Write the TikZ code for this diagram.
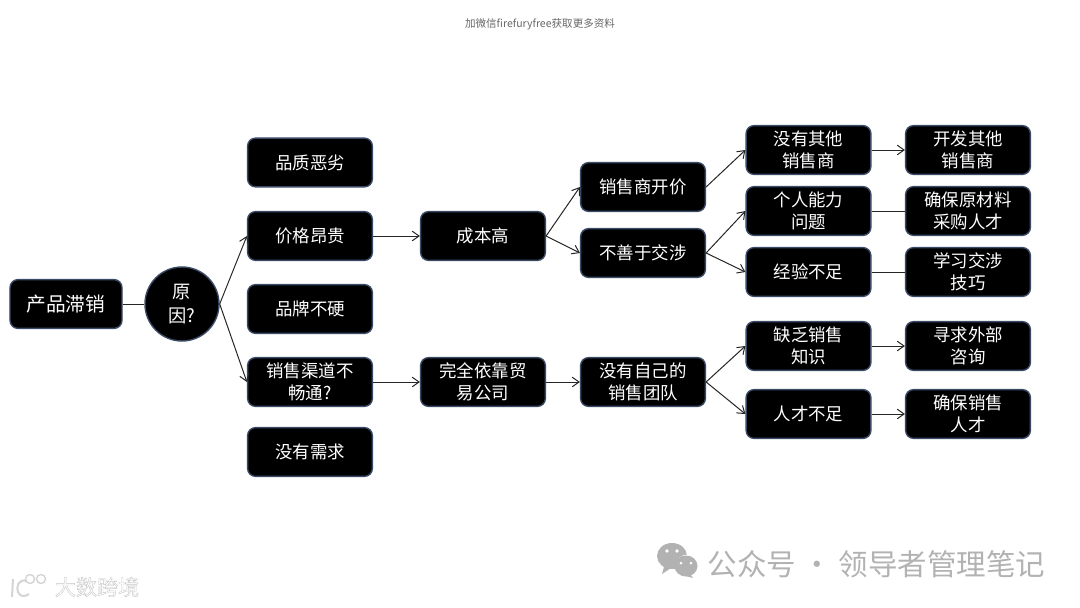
\documentclass[tikz,border=0pt]{standalone}
\usepackage{fontspec}
\setmainfont{Noto Sans CJK SC}
\usetikzlibrary{arrows.meta}
\definecolor{edgeblue}{HTML}{3B4A66}
\definecolor{markgray}{HTML}{B2B2B2}
\definecolor{logogray}{HTML}{D4D4D4}
\tikzset{
  box/.style={draw=edgeblue,line width=0.35mm,fill=black,text=white,rounded corners=2mm,
    minimum width=31.2mm,minimum height=12.2mm,align=center,inner sep=0pt,
    font=\fontsize{12.4}{15.6}\selectfont},
  link/.style={draw=black!85,line width=0.25mm},
  arrowlink/.style={link,-{Straight Barb[length=1.7mm,width=2.4mm]}},
}
\begin{document}
\begin{tikzpicture}[x=0.25mm,y=-0.25mm]
  \useasboundingbox (0,0) rectangle (1080,607);
  \node[box,minimum width=28mm,font=\fontsize{14}{17}\selectfont] (chanpin) at (66,304) {产品滞销};
  \node[box,circle,rounded corners=0pt,minimum width=18.5mm,minimum height=18.5mm,font=\fontsize{13}{17}\selectfont] (yuanyin) at (182,304) {原\\因?};

  \node[box] (pinzhi) at (310,162.5) {品质恶劣};
  \node[box] (jiage) at (310,236) {价格昂贵};
  \node[box] (pinpai) at (310,309) {品牌不硬};
  \node[box] (qudao) at (310,382) {销售渠道不\\畅通?};
  \node[box] (xuqiu) at (310,452) {没有需求};

  \node[box] (chengben) at (483,236) {成本高};
  \node[box] (maoyi) at (483,382) {完全依靠贸\\易公司};

  \node[box] (kaijia) at (643,187) {销售商开价};
  \node[box] (jiaoshe) at (643,253) {不善于交涉};
  \node[box] (tuandui) at (643,382) {没有自己的\\销售团队};

  \node[box] (qita) at (808.5,150) {没有其他\\销售商};
  \node[box] (nengli) at (808.5,211) {个人能力\\问题};
  \node[box] (jingyan) at (808.5,272) {经验不足};
  \node[box] (zhishi) at (808.5,346) {缺乏销售\\知识};
  \node[box] (rencai) at (808.5,414) {人才不足};

  \node[box] (kaifa) at (968,150) {开发其他\\销售商};
  \node[box] (caigou) at (968,211) {确保原材料\\采购人才};
  \node[box] (jiqiao) at (968,272) {学习交涉\\技巧};
  \node[box] (zixun) at (968,346) {寻求外部\\咨询};
  \node[box] (queli) at (968,414) {确保销售\\人才};

  \draw[link] (chanpin) -- (yuanyin);
  \draw[arrowlink] (yuanyin.east) -- (jiage.west);
  \draw[arrowlink] (yuanyin.east) -- (qudao.west);
  \draw[arrowlink] (jiage) -- (chengben);
  \draw[arrowlink] (qudao) -- (maoyi);
  \draw[arrowlink] (chengben.east) -- (kaijia.west);
  \draw[arrowlink] (chengben.east) -- (jiaoshe.west);
  \draw[arrowlink] (maoyi) -- (tuandui);
  \draw[arrowlink] (kaijia.east) -- (qita.west);
  \draw[arrowlink] (jiaoshe.east) -- (nengli.west);
  \draw[arrowlink] (jiaoshe.east) -- (jingyan.west);
  \draw[arrowlink] (tuandui.east) -- (zhishi.west);
  \draw[arrowlink] (tuandui.east) -- (rencai.west);
  \draw[arrowlink] (qita) -- (kaifa);
  \draw[link] (nengli) -- (caigou);
  \draw[link] (jingyan) -- (jiqiao);
  \draw[arrowlink] (zhishi) -- (zixun);
  \draw[arrowlink] (rencai) -- (queli);

  \node[text=black!60,font=\fontsize{7.5}{9}\selectfont,inner sep=0pt] (jiaweixin) at (540,24) {加微信firefuryfree获取更多资料};

  \fill[markgray] (672,556) ellipse (15 and 13);
  \fill[markgray] (664,567) -- (662,574) -- (671,568) -- cycle;
  \fill[white] (688,566) ellipse (12.5 and 11.5);
  \fill[markgray] (686,566) ellipse (11.5 and 10.5);
  \fill[markgray] (690,574) -- (693,578) -- (682,575) -- cycle;
  \fill[white] (667,551) circle (1.8) (677,551) circle (1.8) (681,563) circle (1.5) (691,563) circle (1.5);
  \node[text=markgray,font=\fontsize{21}{24}\selectfont,inner sep=0pt] (gongzhong) at (876.5,564) {公众号 · 领导者管理笔记};

  \draw[logogray,line width=0.5mm] (13,579) -- (12,597);
  \draw[logogray,line width=0.5mm] (27,581) .. controls (18,578) and (16,588) .. (18,592) .. controls (20,597) and (25,597) .. (29,594);
  \draw[logogray,line width=0.35mm] (30,579) circle (4.5) (41,579) circle (4.5);
  \node[text=white,font=\fontsize{15}{17}\selectfont,inner sep=0pt] (dashuju) at (97,587) {\special{pdf:code 2 Tr 0.3 w 0.78 0.78 0.78 RG}大数跨境\special{pdf:code 0 Tr}};
\end{tikzpicture}
\end{document}
